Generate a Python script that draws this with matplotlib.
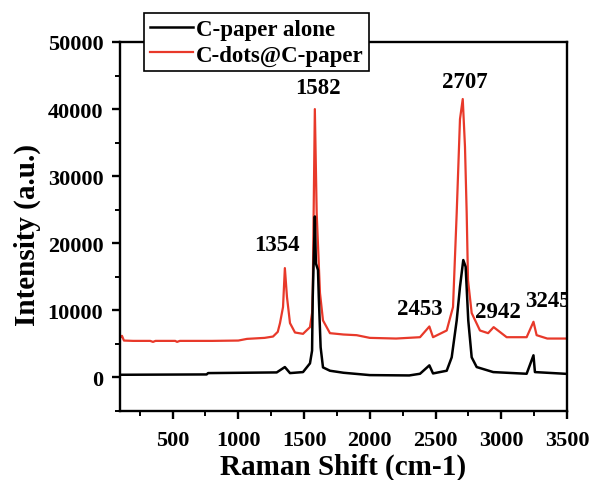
import matplotlib
matplotlib.use("Agg")
import matplotlib.pyplot as plt

# ---- data ----
red_x = [100, 115, 130, 200, 330, 351, 370, 520, 534, 555, 800, 1000, 1066, 1200, 1264, 1300,
         1317, 1340, 1354, 1370, 1393, 1431, 1492, 1545, 1561, 1566, 1582, 1596, 1621,
         1644, 1697, 1800, 1900, 2000, 2200, 2382, 2453, 2481, 2585, 2633, 2661, 2686,
         2707, 2724, 2737, 2747, 2775, 2838, 2900, 2942, 3041, 3193, 3245, 3269, 3350, 3485]
red_y = [5900, 6200, 5500, 5450, 5450, 5300, 5450, 5450, 5300, 5450, 5450, 5500, 5750, 5900, 6100, 6800,
         8100, 10500, 16300, 12000, 8100, 6700, 6500, 7500, 9600, 12600, 40000, 24500, 12600,
         8500, 6600, 6400, 6300, 5900, 5800, 6000, 7600, 6000, 7000, 10500, 24500, 38500,
         41500, 34400, 24500, 14500, 9600, 7000, 6600, 7500, 6000, 6000, 8300, 6300, 5800, 5800]

black_x = [100, 759, 770, 1292, 1354, 1393, 1492, 1545, 1561, 1566, 1582, 1590, 1606, 1612,
           1626, 1644, 1697, 1800, 2000, 2300, 2382, 2453, 2481, 2585, 2623, 2661, 2686,
           2711, 2729, 2749, 2775, 2813, 2939, 3193, 3245, 3256, 3485]
black_y = [400, 450, 650, 750, 1550, 650, 800, 2100, 4000, 12000, 24000, 17000, 16000, 12000,
           4500, 1500, 1000, 700, 350, 300, 550, 1800, 600, 1000, 3000, 8500, 13500,
           17500, 16500, 8500, 3000, 1550, 800, 550, 3300, 800, 550]

peak_labels = ["1354", "1582", "2707", "2453", "2942", "3245"]
label_x = [1292, 1602, 2724, 2382, 2971, 3352]
label_y = [19830, 43260, 44090, 10250, 9800, 11530]

series_names = ["C-paper alone", "C-dots@C-paper"]
xticks = [500, 1000, 1500, 2000, 2500, 3000, 3500]
yticks = [0, 10000, 20000, 30000, 40000, 50000]

# ---- figure ----
serif = "Liberation Serif"
fig = plt.figure(figsize=(5.92, 4.81), dpi=100)
ax = fig.add_axes([120/592, 1-412/481, (567-120)/592, (412-43)/481])

red = "#e8392a"
l_red, = ax.plot(red_x, red_y, color=red, lw=1.6, zorder=2)
l_blk, = ax.plot(black_x, black_y, color="black", lw=1.8, zorder=3)

ax.set_xlim(100, 3500)
ax.set_ylim(-5000, 50000)
ax.set_xticks(xticks)
ax.set_yticks(yticks)
ax.set_xticks([250 + 500*i for i in range(7)], minor=True)
ax.set_yticks([-5000 + 10000*i for i in range(6)], minor=True)

for s in ax.spines.values():
    s.set_linewidth(1.7)
ax.tick_params(which="major", direction="out", length=6, width=1.7)
ax.tick_params(axis="x", which="major", pad=8)
ax.tick_params(axis="y", which="major", pad=6)
ax.tick_params(which="minor", direction="out", length=3.5, width=1.4)
for lab in ax.get_xticklabels() + ax.get_yticklabels():
    lab.set_fontfamily(serif)
    lab.set_fontweight("bold")
    lab.set_fontsize(16)

ax.set_xlabel("Raman Shift (cm-1)", fontfamily=serif, fontweight="bold", fontsize=21)
ax.set_ylabel("Intensity (a.u.)", fontfamily=serif, fontweight="bold", fontsize=21)
ax.xaxis.label.set_va("center")
ax.yaxis.label.set_va("center")
ax.xaxis.set_label_coords(0.5, (412 - 467) / 369)
ax.yaxis.set_label_coords((27 - 120) / 447, (412 - 235) / 369)

for t, x, y in zip(peak_labels, label_x, label_y):
    ax.text(x, y, t, ha="center", va="center", fontfamily=serif, fontweight="bold",
            fontsize=16.5, clip_on=True)

leg = ax.legend([l_blk, l_red], series_names, loc="upper left",
                bbox_to_anchor=(144/592, 1-14/481), bbox_transform=fig.transFigure,
                borderaxespad=0, fancybox=False, framealpha=1, edgecolor="black",
                prop={"family": serif, "weight": "bold", "size": 16.5},
                handlelength=1.9, handletextpad=0.1, labelspacing=0.2, borderpad=0.25)
leg.get_frame().set_linewidth(1.2)
leg.set_zorder(10)

fig.savefig("out.png", dpi=100)
